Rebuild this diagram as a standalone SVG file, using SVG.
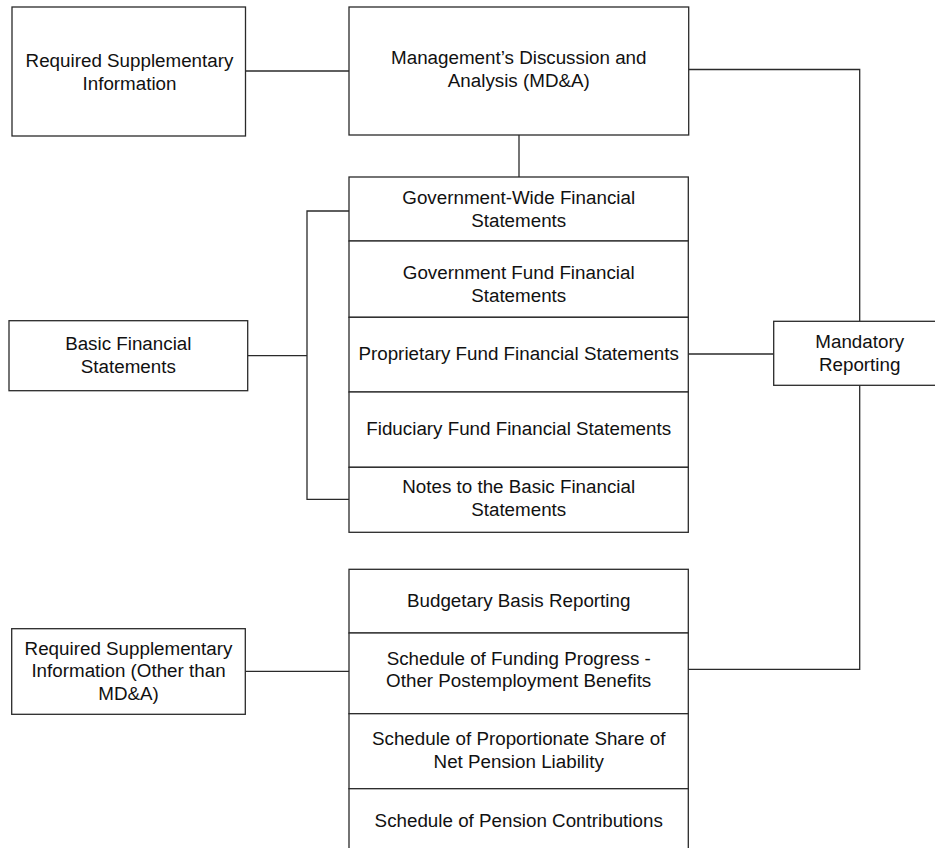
<svg xmlns="http://www.w3.org/2000/svg" width="935" height="848" viewBox="0 0 935 848">
<style>
.box{fill:#fff;stroke:#2a2a2a;stroke-width:1.3}
.ln{fill:none;stroke:#2a2a2a;stroke-width:1.3}
text{font-family:"Liberation Sans",Arial,sans-serif;font-size:18.8px;fill:#111;text-anchor:middle}
</style>
<rect width="935" height="848" fill="#fff"/>
<g id="connectors">
<path class="ln" d="M245.5 71 H349"/>
<path class="ln" d="M688.7 69.5 H859.7 V321.3"/>
<path class="ln" d="M859.7 385.3 V669.3 H688.3"/>
<path class="ln" d="M519 135 V177"/>
<path class="ln" d="M349 211 H307 V499.3 H349"/>
<path class="ln" d="M247.7 355.7 H307"/>
<path class="ln" d="M688.3 354 H773.7"/>
<path class="ln" d="M245.3 671.3 H349"/>
</g>
<g id="rsi-top">
<rect class="box" x="12" y="7" width="233.5" height="129"/>
<text x="129.5" y="67">Required Supplementary</text>
<text x="129.5" y="90">Information</text>
</g>
<g id="mda">
<rect class="box" x="349" y="7" width="339.7" height="128"/>
<text x="518.8" y="64">Management’s Discussion and</text>
<text x="518.8" y="87">Analysis (MD&amp;A)</text>
</g>
<g id="gov-wide">
<rect class="box" x="349" y="177" width="339.3" height="64"/>
<text x="518.7" y="204">Government-Wide Financial</text>
<text x="518.7" y="227">Statements</text>
</g>
<g id="gov-fund">
<rect class="box" x="349" y="241" width="339.3" height="76.3"/>
<text x="518.7" y="279.3">Government Fund Financial</text>
<text x="518.7" y="302">Statements</text>
</g>
<g id="proprietary">
<rect class="box" x="349" y="317.3" width="339.3" height="74.7"/>
<text x="518.7" y="360">Proprietary Fund Financial Statements</text>
</g>
<g id="fiduciary">
<rect class="box" x="349" y="392" width="339.3" height="75.3"/>
<text x="518.7" y="435">Fiduciary Fund Financial Statements</text>
</g>
<g id="notes">
<rect class="box" x="349" y="467.3" width="339.3" height="65"/>
<text x="518.7" y="492.7">Notes to the Basic Financial</text>
<text x="518.7" y="516">Statements</text>
</g>
<g id="basic-fs">
<rect class="box" x="9" y="320.7" width="238.7" height="70"/>
<text x="128.3" y="350">Basic Financial</text>
<text x="128.3" y="373.3">Statements</text>
</g>
<g id="mandatory">
<rect class="box" x="773.7" y="321.3" width="175" height="64"/>
<text x="859.7" y="347.7">Mandatory</text>
<text x="859.7" y="370.7">Reporting</text>
</g>
<g id="budgetary">
<rect class="box" x="349" y="569.3" width="339.3" height="63.7"/>
<text x="518.7" y="606.7">Budgetary Basis Reporting</text>
</g>
<g id="funding">
<rect class="box" x="349" y="633" width="339.3" height="80.7"/>
<text x="518.7" y="665">Schedule of Funding Progress -</text>
<text x="518.7" y="687.3">Other Postemployment Benefits</text>
</g>
<g id="proportionate">
<rect class="box" x="349" y="713.7" width="339.3" height="75"/>
<text x="518.7" y="745">Schedule of Proportionate Share of</text>
<text x="518.7" y="768.3">Net Pension Liability</text>
</g>
<g id="contributions">
<rect class="box" x="349" y="788.7" width="339.3" height="75"/>
<text x="518.7" y="826.7">Schedule of Pension Contributions</text>
</g>
<g id="rsi-other">
<rect class="box" x="11.7" y="628.7" width="233.6" height="85.6"/>
<text x="128.5" y="655">Required Supplementary</text>
<text x="128.5" y="677.3">Information (Other than</text>
<text x="128.5" y="700">MD&amp;A)</text>
</g>
</svg>
